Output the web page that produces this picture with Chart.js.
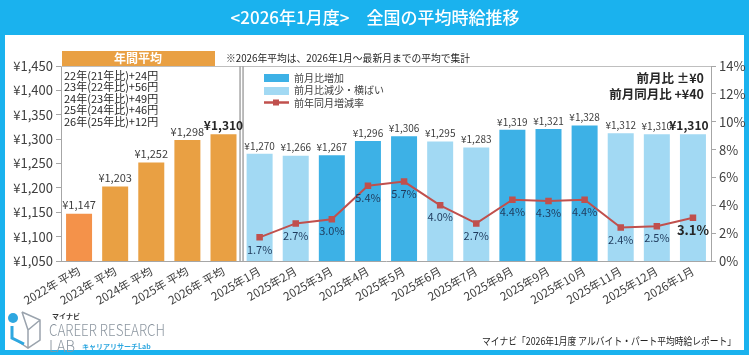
<!DOCTYPE html>
<html><head><meta charset="utf-8">
<script src="https://cdn.jsdelivr.net/npm/chart.js@4/dist/chart.umd.min.js"></script>
<style>html,body{margin:0;padding:0;background:#fff}canvas{display:block}</style>
</head><body>
<canvas id="c" width="749" height="355"></canvas>
<script>
const categories = ['2022年 平均','2023年 平均','2024年 平均','2025年 平均','2026年 平均',
  '2025年1月','2025年2月','2025年3月','2025年4月','2025年5月','2025年6月','2025年7月',
  '2025年8月','2025年9月','2025年10月','2025年11月','2025年12月','2026年1月'];
const annualValues = [1147,1203,1252,1298,1310];
const monthlyValues = [1270,1266,1267,1296,1306,1295,1283,1319,1321,1328,1312,1310,1310];
const monthlyIncrease = [false,false,true,true,true,false,false,true,true,true,false,false,false];
const yoyRates = [1.7,2.7,3.0,5.4,5.7,4.0,2.7,4.4,4.3,4.4,2.4,2.5,3.1];
const annualNotes = ['22年(21年比)+24円','23年(22年比)+56円','24年(23年比)+49円','25年(24年比)+46円','26年(25年比)+12円'];
const legendLabels = ['前月比増加','前月比減少・横ばい','前年同月増減率'];
const titleText = '<2026年1月度>　全国の平均時給推移';
const noteText = '※2026年平均は、2026年1月～最新月までの平均で集計';
const summaryLines = ['前月比 ±¥0','前月同月比 +¥40'];
const sourceText = 'マイナビ「2026年1月度 アルバイト・パート平均時給レポート」';

const F = '"Noto Sans CJK JP","Noto Sans",sans-serif';
const CYAN = '#1AB2EE', DARKB = '#3DB1E6', LIGHTB = '#A2D9F3', RED = '#C0504D';
const ORANGE = '#E9A043', ORANGE1 = '#F4924A', TXT = '#404040', NAVY = '#1F3A5C';

const barValues = annualValues.concat(monthlyValues);
const barColors = annualValues.map((v,i)=> i===0?ORANGE1:ORANGE)
  .concat(monthlyIncrease.map(b=> b?DARKB:LIGHTB));
const lineValues = annualValues.map(()=>null).concat(yoyRates);
const yen = v => '¥' + Number(v).toLocaleString('en-US');

const deco = {
  id:'deco',
  beforeDraw(chart){
    const c = chart.ctx;
    c.save();
    c.fillStyle = CYAN; c.fillRect(0,0,749,355);
    c.fillStyle = '#fff'; c.fillRect(5,35,739,315);
    c.fillStyle = '#fff'; c.font = '500 17px '+F; c.textAlign='center'; c.textBaseline='middle';
    c.fillText(titleText, 375, 18);
    c.restore();
  },
  afterDatasetsDraw(chart){
    const c = chart.ctx, a = chart.chartArea;
    const bm = chart.getDatasetMeta(1), lm = chart.getDatasetMeta(0);
    c.save();
    c.strokeStyle = '#BFBFBF'; c.lineWidth = 1;
    c.beginPath(); c.moveTo(a.left, a.top+0.5); c.lineTo(a.right, a.top+0.5); c.stroke();
    const sx = (bm.data[4].x + bm.data[5].x)/2;
    c.strokeStyle = '#A6A6A6'; c.lineWidth = 1.5;
    c.beginPath(); c.moveTo(sx-1.5, a.top); c.lineTo(sx-1.5, a.bottom); c.stroke();
    c.beginPath(); c.moveTo(sx+1.5, a.top); c.lineTo(sx+1.5, a.bottom); c.stroke();
    c.textAlign='center'; c.textBaseline='bottom';
    bm.data.forEach((el,i)=>{
      const last = i===barValues.length-1;
      const bold = (i===4 || last);
      c.fillStyle = bold ? '#262626' : TXT;
      c.font = bold ? 'bold 12px '+F : (i<5 ? '11px '+F : '10px '+F);
      c.fillText(yen(barValues[i]), el.x + (last?-4:0), el.y - 3);
    });
    c.textBaseline='middle';
    lm.data.forEach((el,i)=>{
      if(lineValues[i]==null) return;
      const last = i===lineValues.length-1;
      c.fillStyle = last ? '#262626' : NAVY;
      c.font = last ? 'bold 13px '+F : '11px '+F;
      c.fillText(lineValues[i].toFixed(1)+'%', el.x, el.y + 12);
    });
    c.restore();
  },
  afterDraw(chart){
    const c = chart.ctx;
    c.save();
    c.fillStyle = ORANGE; c.fillRect(62,51,153,15);
    c.fillStyle = '#fff'; c.font = 'bold 12px '+F; c.textAlign='center'; c.textBaseline='middle';
    c.fillText('年間平均', 138, 58.5);
    c.fillStyle = '#262626'; c.font = '10px '+F; c.textAlign='left';
    c.fillText(noteText, 226, 58.5, 244);
    c.font = '11px '+F; c.fillStyle = '#262626';
    annualNotes.forEach((t,i)=> c.fillText(t, 64, 75.5 + i*11.6));
    c.fillStyle = DARKB; c.fillRect(264,74,25,8);
    c.fillStyle = LIGHTB; c.fillRect(264,87,25,8);
    c.strokeStyle = RED; c.lineWidth = 2.5;
    c.beginPath(); c.moveTo(264,102.5); c.lineTo(289,102.5); c.stroke();
    c.fillStyle = RED; c.fillRect(273,99.5,6,6);
    c.fillStyle = TXT; c.font = '10px '+F;
    legendLabels.forEach((t,i)=> c.fillText(t, 294, 78 + i*12.5));
    c.textAlign='right'; c.fillStyle = '#262626'; c.font = 'bold 12.5px '+F;
    c.fillText(summaryLines[0], 704, 78);
    c.fillText(summaryLines[1], 704, 94);
    c.font = '10.5px '+F; c.fillStyle = '#262626';
    c.fillText(sourceText, 736, 341, 254);
    c.textAlign='left';
    c.strokeStyle = '#9AA3AD'; c.lineWidth = 1.5;
    c.beginPath();
    c.moveTo(22,312); c.lineTo(40,320); c.lineTo(40,340); c.lineTo(28,348); c.lineTo(16,340);
    c.moveTo(22,312); c.lineTo(28,330); c.lineTo(40,320); c.moveTo(28,330); c.lineTo(28,348);
    c.stroke();
    c.strokeStyle = '#2EA7E0'; c.lineWidth = 3;
    c.beginPath(); c.moveTo(12,326); c.lineTo(12,338); c.lineTo(24,344); c.stroke();
    c.fillStyle = '#2EA7E0'; c.beginPath(); c.arc(13,318,5,0,Math.PI*2); c.fill();
    c.fillStyle = '#333'; c.font = 'bold 7px '+F; c.fillText('マイナビ', 52, 316);
    c.fillStyle = '#8C96A0'; c.font = '300 16px '+F; c.fillText('CAREER RESEARCH', 49, 330, 116);
    c.fillText('LAB', 49, 346, 26);
    c.fillStyle = '#2EA7E0'; c.font = 'bold 7px '+F; c.fillText('キャリアリサーチLab', 82, 346);
    c.restore();
  }
};

new Chart(document.getElementById('c'), {
  type:'bar',
  data:{
    labels: categories,
    datasets:[
      {type:'line', label:legendLabels[2], data: lineValues, yAxisID:'y1', borderColor: RED,
       backgroundColor: RED, borderWidth: 2, pointStyle:'rect', pointRadius: 3.2, spanGaps:false, order:0},
      {type:'bar', label:legendLabels[0], data: barValues, yAxisID:'y', backgroundColor: barColors,
       categoryPercentage: 0.72, barPercentage: 1.0, order:1}
    ]
  },
  options:{
    responsive:false, animation:false, devicePixelRatio:1,
    layout:{padding:{top:66, left:0, right:0, bottom:0}},
    plugins:{legend:{display:false}, tooltip:{enabled:false}},
    scales:{
      x:{
        grid:{display:false, drawTicks:false},
        border:{color:'#A6A6A6'},
        ticks:{color:TXT, font:{family:F, size:11.5}, minRotation:30, maxRotation:30, autoSkip:false, padding:3},
        afterFit(s){ s.height = 94; }
      },
      y:{
        position:'left', min:1050, max:1450,
        grid:{drawOnChartArea:false, tickLength:5, color:'#A6A6A6'},
        border:{color:'#A6A6A6'},
        ticks:{stepSize:50, color:TXT, font:{family:F, size:13}, padding:3, callback: v=>yen(v)},
        afterFit(s){ s.width = 61; }
      },
      y1:{
        position:'right', min:0, max:14,
        grid:{drawOnChartArea:false, tickLength:5, color:'#A6A6A6'},
        border:{color:'#A6A6A6'},
        ticks:{stepSize:2, color:TXT, font:{family:F, size:13}, padding:3, callback: v=>v+'%'},
        afterFit(s){ s.width = 38; }
      }
    }
  },
  plugins:[deco]
});
</script>
</body></html>
